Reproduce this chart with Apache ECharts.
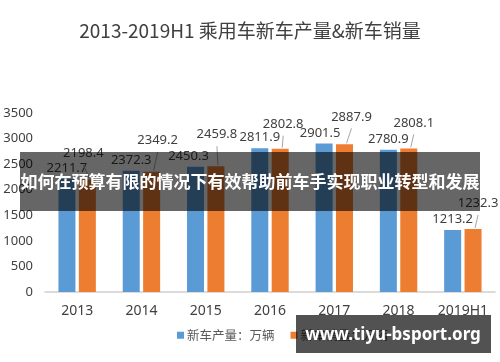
<!DOCTYPE html>
<html>
<head>
<meta charset="utf-8">
<script src="https://cdn.jsdelivr.net/npm/echarts@6/dist/echarts.min.js"></script>
<style>
html,body{margin:0;padding:0;background:#fff;}
#c{width:500px;height:362px;}
</style>
</head>
<body>
<div id="c"></div>
<script>
const categories = ['2013', '2014', '2015', '2016', '2017', '2018', '2019H1'];
const production = [2211.7, 2372.3, 2450.3, 2811.9, 2901.5, 2780.9, 1213.2];
const sales = [2198.4, 2349.2, 2459.8, 2802.8, 2887.9, 2808.1, 1232.3];
const seriesNames = ['新车产量：万辆', '新车销量：万辆'];
const titleText = '2013-2019H1 乘用车新车产量&新车销量';
const bannerText = '如何在预算有限的情况下有效帮助前车手实现职业转型和发展';
const watermarkText = 'www.tiyu-bsport.org';
const yMin = 0, yMax = 3500, yInterval = 500;

// label displacement (style only)
const salesShift = [[-4, -16], [6, -21], [1, -21], [3, -14], [7, -17], [5, -15], [5, -15]];
const prodShift = [[0, 0], [0, 0], [-7, 0], [0, 0], [-4, 0], [0, 0], [0, 0]];
const BAR_W = 17, BAR_GAP = 0.2;

const chart = echarts.init(document.getElementById('c'), null, {renderer: 'canvas'});
const labelStyle = {show: true, position: 'top', distance: 4, color: '#404040', fontSize: 13, fontFamily: 'Noto Sans'};
chart.setOption({
  animation: false,
  backgroundColor: '#ffffff',
  title: {
    text: titleText, left: 'center', top: 16,
    textStyle: {fontSize: 19, fontWeight: 'normal', color: '#404040', fontFamily: 'Noto Sans CJK SC'}
  },
  legend: {
    left: 177, top: 329, padding: 0, icon: 'rect', itemWidth: 7, itemHeight: 7, itemGap: 16,
    textStyle: {fontSize: 12.5, color: '#595959', fontFamily: 'Noto Sans CJK SC', padding: [0, 0, 0, -2]},
    data: seriesNames
  },
  grid: {left: 45, right: 5, top: 113, bottom: 70},
  xAxis: {
    type: 'category', data: categories,
    axisLine: {lineStyle: {color: '#d0d0d0', width: 1.5}},
    axisTick: {show: false},
    axisLabel: {interval: 0, color: '#404040', fontSize: 14, margin: 12, fontFamily: 'Noto Sans'}
  },
  yAxis: {
    type: 'value', min: yMin, max: yMax, interval: yInterval,
    axisLine: {show: false}, axisTick: {show: false}, splitLine: {show: false},
    axisLabel: {color: '#404040', fontSize: 13, margin: 12, fontFamily: 'Noto Sans', formatter: function (v) { return String(v); }}
  },
  series: [
    {
      name: seriesNames[0], type: 'bar', data: production, barWidth: BAR_W, barGap: (BAR_GAP * 100) + '%',
      itemStyle: {color: '#5B9BD5'},
      label: labelStyle,
      labelLayout: function (p) { const s = prodShift[p.dataIndex]; return {dx: s[0], dy: s[1]}; }
    },
    {
      name: seriesNames[1], type: 'bar', data: sales, barWidth: BAR_W,
      itemStyle: {color: '#ED7D31'},
      label: labelStyle,
      labelLayout: function (p) { const s = salesShift[p.dataIndex]; return {dx: s[0], dy: s[1]}; }
    },
    {
      name: 'leader', type: 'custom', z: 5, silent: true, legendHoverLink: false,
      data: sales.map(function (v, i) { return [i, v]; }),
      encode: {x: 0, y: 1},
      renderItem: function (params, api) {
        const i = api.value(0);
        const p = api.coord([i, api.value(1)]);
        const off = (BAR_W * (1 + BAR_GAP)) / 2;
        const cx = p[0] + off;
        const s = salesShift[i];
        return {
          type: 'line',
          shape: {x1: cx + 2, y1: p[1] - 1, x2: cx + s[0], y2: p[1] + s[1] + 1},
          style: {stroke: '#a6a6a6', lineWidth: 1}
        };
      }
    }
  ],
  graphic: [
    {type: 'rect', z: 1000, zlevel: 1, shape: {x: 20, y: 152, width: 460, height: 59}, style: {fill: 'rgba(0,0,0,0.6)'}},
    {type: 'text', z: 1001, zlevel: 1, x: 250, y: 181.5, style: {text: bannerText, fill: '#ffffff', font: 'bold 17px "Noto Sans CJK SC"', textAlign: 'center', textVerticalAlign: 'middle'}},
    {type: 'rect', z: 1000, zlevel: 1, shape: {x: 296, y: 315, width: 195, height: 38}, style: {fill: 'rgba(0,0,0,0.68)'}},
    {type: 'text', z: 1001, zlevel: 1, x: 393, y: 335, style: {text: watermarkText, fill: '#ffffff', font: 'bold 17px "Noto Sans"', textAlign: 'center', textVerticalAlign: 'middle'}}
  ]
});
</script>
</body>
</html>
